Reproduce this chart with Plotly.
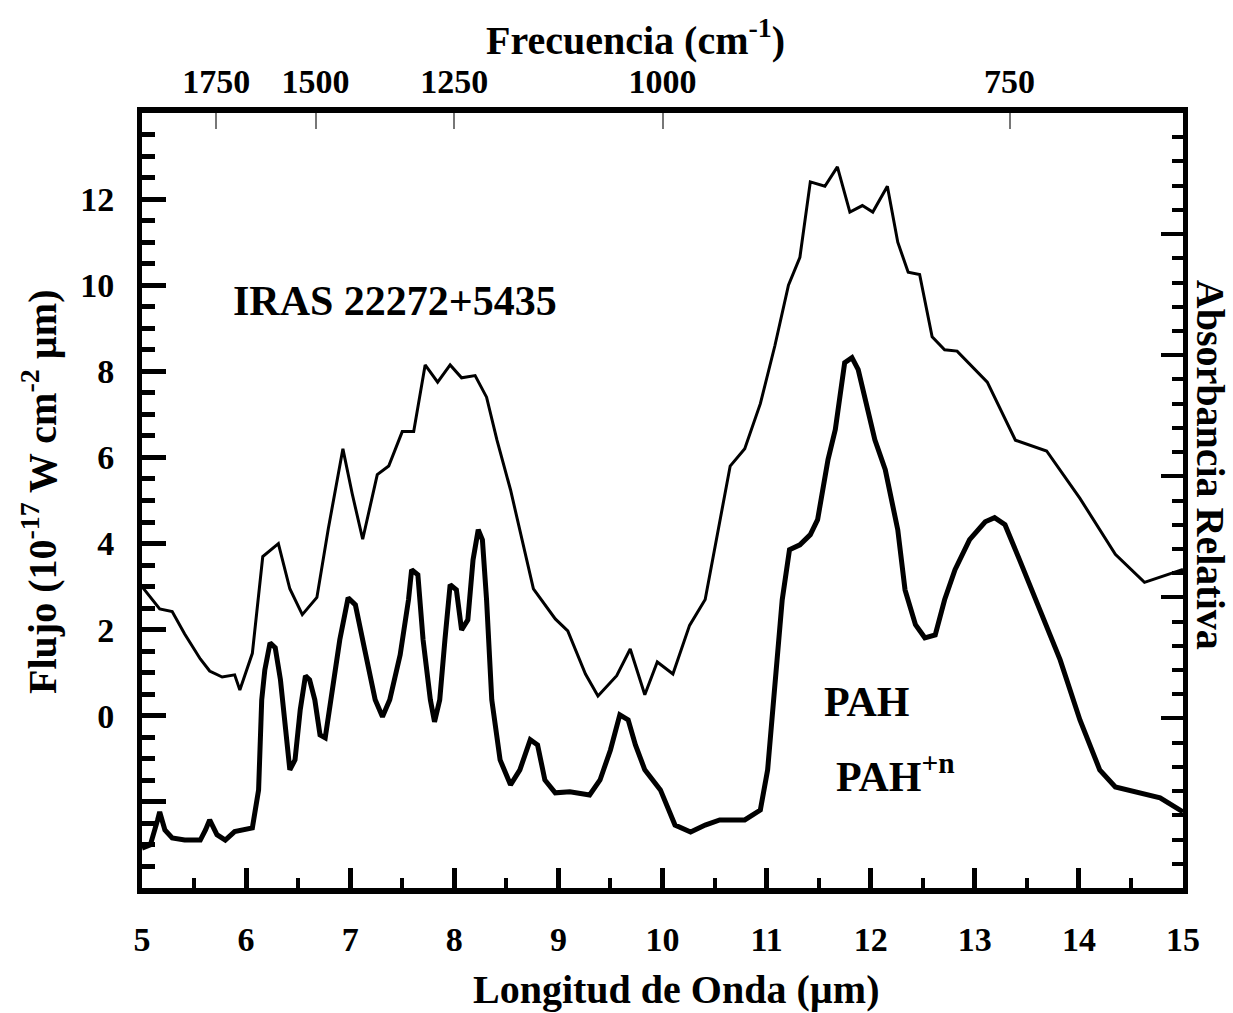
import plotly.graph_objects as go

# ---------------- data ----------------
# Upper curve: IRAS 22272+5435 spectrum (left axis, flux)
iras_wl = [5.00, 5.17, 5.29, 5.41, 5.56, 5.65, 5.77, 5.89, 5.94, 6.06, 6.16, 6.31, 6.42, 6.54,
           6.68, 6.79, 6.93, 7.02, 7.12, 7.26, 7.37, 7.50, 7.61, 7.72, 7.84, 7.96, 8.07, 8.20,
           8.31, 8.41, 8.54, 8.76, 8.97, 9.09, 9.26, 9.38, 9.56, 9.69, 9.83, 9.95, 10.10, 10.26,
           10.41, 10.65, 10.79, 10.94, 11.08, 11.21, 11.32, 11.42, 11.56, 11.68, 11.80, 11.92,
           12.02, 12.16, 12.26, 12.36, 12.47, 12.59, 12.71, 12.83, 13.12, 13.39, 13.69, 14.01,
           14.35, 14.63, 15.00]
iras_flux = [3.0, 2.48, 2.42, 1.9, 1.32, 1.04, 0.9, 0.95, 0.6, 1.45, 3.7, 4.0, 2.95, 2.35,
             2.75, 4.35, 6.2, 5.15, 4.1, 5.6, 5.8, 6.6, 6.6, 8.15, 7.75, 8.15, 7.85, 7.9,
             7.4, 6.4, 5.25, 2.95, 2.25, 1.97, 0.97, 0.46, 0.93, 1.55, 0.49, 1.25, 0.97, 2.1,
             2.7, 5.8, 6.2, 7.25, 8.6, 10.0, 10.65, 12.4, 12.3, 12.75, 11.7, 11.85,
             11.7, 12.3, 11.0, 10.3, 10.25, 8.8, 8.5, 8.47, 7.75, 6.4, 6.15, 5.05,
             3.75, 3.1, 3.4]

# Lower curve: laboratory PAH / PAH+n absorbance (right axis, relative units)
pah_wl = [5.00, 5.08, 5.15, 5.17, 5.22, 5.29, 5.41, 5.56, 5.61, 5.65, 5.72, 5.80, 5.89, 5.99,
          6.06, 6.12, 6.15, 6.18, 6.23, 6.28, 6.33, 6.38, 6.42, 6.47, 6.52, 6.57, 6.61, 6.66,
          6.71, 6.76, 6.81, 6.90, 6.98, 7.05, 7.14, 7.24, 7.31, 7.38, 7.48, 7.56, 7.59, 7.65,
          7.70, 7.77, 7.81, 7.86, 7.91, 7.96, 8.02, 8.07, 8.13, 8.18, 8.23, 8.27, 8.31, 8.36,
          8.44, 8.54, 8.63, 8.73, 8.80, 8.87, 8.97, 9.11, 9.30, 9.40, 9.50, 9.59, 9.67, 9.74,
          9.83, 9.98, 10.12, 10.27, 10.41, 10.55, 10.79, 10.94, 11.01, 11.08, 11.15, 11.22,
          11.32, 11.42, 11.49, 11.59, 11.66, 11.75, 11.82, 11.88, 11.95, 12.04, 12.14, 12.26,
          12.33, 12.43, 12.52, 12.62, 12.71, 12.81, 12.95, 13.10, 13.19, 13.29, 13.43, 13.63,
          13.82, 14.01, 14.20, 14.35, 14.54, 14.78, 15.00]
pah_abs = [1.65, 1.78, 2.81, 3.14, 2.40, 2.07, 1.98, 1.98, 2.40, 2.81, 2.20, 1.98, 2.33, 2.40,
           2.48, 4.05, 7.77, 9.01, 10.12, 9.92, 8.60, 6.53, 4.88, 5.29, 7.36, 8.76, 8.60, 7.77,
           6.32, 6.20, 7.77, 10.25, 11.98, 11.69, 9.83, 7.77, 7.07, 7.77, 9.63, 11.90, 13.14, 12.93,
           10.25, 7.77, 6.86, 7.77, 10.25, 12.52, 12.31, 10.66, 11.07, 13.55, 14.79, 14.38, 11.90,
           7.77, 5.29, 4.26, 4.88, 6.12, 5.91, 4.46, 3.93, 3.97, 3.84, 4.46, 5.70, 7.15, 6.94,
           5.91, 4.88, 4.05, 2.60, 2.31, 2.60, 2.81, 2.81, 3.22, 4.88, 8.60, 11.90, 13.97,
           14.17, 14.59, 15.21, 17.69, 18.93, 21.69, 21.90, 21.40, 20.17, 18.51, 17.27, 14.79,
           12.31, 10.87, 10.33, 10.45, 11.90, 13.14, 14.38, 15.12, 15.29, 15.00, 13.55, 11.49,
           9.42, 6.94, 4.88, 4.17, 3.97, 3.72, 3.14]

x_ticks = [5, 6, 7, 8, 9, 10, 11, 12, 13, 14, 15]
y_ticks = [-4, -2, 0, 2, 4, 6, 8, 10, 12, 14]
y_ticktext = ["", "", "0", "2", "4", "6", "8", "10", "12", ""]
freq_ticks = [1750, 1500, 1250, 1000, 750]
y2_ticks = [7, 12, 17, 22, 27]

FONT = "Liberation Serif"

fig = go.Figure()
fig.add_trace(go.Scatter(x=iras_wl, y=iras_flux, mode="lines",
                         line=dict(color="black", width=3), xaxis="x", yaxis="y",
                         showlegend=False))
fig.add_trace(go.Scatter(x=pah_wl, y=pah_abs, mode="lines",
                         line=dict(color="black", width=5), xaxis="x", yaxis="y2",
                         showlegend=False))
# invisible trace to activate top axis
fig.add_trace(go.Scatter(x=[5, 15], y=[None, None], mode="lines", xaxis="x2", yaxis="y",
                         showlegend=False, hoverinfo="skip"))

tickfont = dict(family=FONT, size=34, color="black", weight="bold")

fig.update_layout(
    width=1233, height=1013,
    margin=dict(l=142, r=50, t=113, b=125),
    paper_bgcolor="white", plot_bgcolor="white",
    font=dict(family=FONT, color="black"),
    xaxis=dict(range=[5, 15], tickvals=x_ticks, ticks="inside", ticklen=20, tickwidth=5,
               tickcolor="black", showline=True, linecolor="black", linewidth=6,
               showgrid=False, zeroline=False, tickfont=tickfont, ticklabelstandoff=16,
               minor=dict(dtick=0.5, tick0=5, ticks="inside", ticklen=10, tickwidth=4,
                          tickcolor="black")),
    xaxis2=dict(range=[5, 15], overlaying="x", side="top",
                tickvals=[1e4 / f for f in freq_ticks], ticktext=[str(f) for f in freq_ticks],
                ticks="inside", ticklen=16, tickwidth=2, tickcolor="#777777",
                showline=True, linecolor="black", linewidth=6, showgrid=False,
                zeroline=False, tickfont=tickfont, ticklabelstandoff=0),
    yaxis=dict(range=[-4, 14], tickvals=y_ticks, ticktext=y_ticktext, ticks="inside",
               ticklen=24, tickwidth=5, tickcolor="black", showline=True,
               linecolor="black", linewidth=5, showgrid=False, zeroline=False,
               tickfont=tickfont, ticklabelstandoff=16,
               minor=dict(dtick=0.5, tick0=0, ticks="inside", ticklen=13, tickwidth=5,
                          tickcolor="black")),
    yaxis2=dict(range=[0, 32], overlaying="y", side="right", tickvals=y2_ticks,
                showticklabels=False, ticks="inside", ticklen=22, tickwidth=4,
                tickcolor="black", showline=True, linecolor="black", linewidth=5,
                showgrid=False, zeroline=False,
                minor=dict(dtick=1, tick0=0, ticks="inside", ticklen=11, tickwidth=4,
                           tickcolor="black")),
)

title_font = dict(family=FONT, size=40, color="black", weight="bold")
label_font = dict(family=FONT, size=42, color="black", weight="bold")

fig.add_annotation(text="Longitud de Onda (µm)", xref="paper", yref="paper",
                   x=0.513, y=-0.131, showarrow=False, font=title_font,
                   xanchor="center", yanchor="middle")
fig.add_annotation(text="Frecuencia (cm<sup>-1</sup>)", xref="paper", yref="paper",
                   x=0.4736, y=1.097, showarrow=False, font=title_font,
                   xanchor="center", yanchor="middle")
fig.add_annotation(text="Flujo (10<sup>-17</sup> W cm<sup>-2</sup> µm)", xref="paper",
                   yref="paper", x=-0.098, y=0.511, textangle=-90, showarrow=False,
                   font=title_font, xanchor="center", yanchor="middle")
fig.add_annotation(text="Absorbancia Relativa", xref="paper", yref="paper",
                   x=1.026, y=0.546, textangle=90, showarrow=False, font=title_font,
                   xanchor="center", yanchor="middle")
fig.add_annotation(text="IRAS 22272+5435", xref="x", yref="y", x=7.43, y=9.63,
                   showarrow=False, font=label_font, xanchor="center", yanchor="middle")
fig.add_annotation(text="PAH", xref="x", yref="y", x=11.96, y=0.33,
                   showarrow=False, font=label_font, xanchor="center", yanchor="middle")
fig.add_annotation(text="PAH<sup>+n</sup>", xref="x", yref="y", x=11.65, y=-1.35,
                   showarrow=False, font=label_font, xanchor="left", yanchor="middle")

fig.write_html("out.html", config={"displayModeBar": False},
               post_script="document.body.style.margin='0';")
